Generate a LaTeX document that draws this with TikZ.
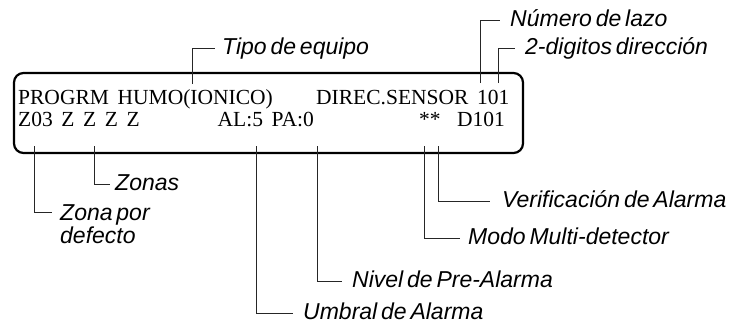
\documentclass[tikz,border=0pt]{standalone}
\usepackage{fontspec}
\setmainfont{Liberation Serif}
\newfontfamily\lcdfont[WordSpace=1.6]{Liberation Serif}
\newfontfamily\lblfont[WordSpace=0.6]{Liberation Sans}
\begin{document}
\begin{tikzpicture}[x=1pt,y=-1pt,
  lcd/.style={font=\lcdfont\fontsize{21.5}{24}\selectfont, anchor=base west, inner sep=0pt},
  lbl/.style={font=\lblfont\itshape\fontsize{23}{21.5}\selectfont, anchor=west, inner sep=0pt, text height=12pt, text depth=0pt},
  conn/.style={draw=black!85, line width=0.9pt},
  display/.style={draw=black, line width=2.2pt, rounded corners=9.5pt}]
\useasboundingbox (0,0) rectangle (734,324);
% display box
\draw[display] (14,73) rectangle (523,153);
% display text
\node[lcd] (t1) at (18,104) {PROGRM HUMO(IONICO)};
\node[lcd] (t2) at (316,104) {DIREC.SENSOR 101};
\node[lcd] (t3) at (18,126.5) {Z03 Z Z Z Z};
\node[lcd] (t4) at (217.5,126.5) {AL:5 PA:0};
\node[lcd] (t5) at (419,126.5) {**};
\node[lcd] (t6) at (457,126.5) {D101};
% connector start points
\coordinate (cTipo) at (192,84);
\coordinate (cNum) at (480,83);
\coordinate (cDig) at (498,83);
\coordinate (cZd) at (34,146);
\coordinate (cZn) at (94,146);
\coordinate (cAL) at (256,146);
\coordinate (cPA) at (317.5,146);
\coordinate (cMM) at (424.5,146);
\coordinate (cVA) at (438.5,146);
% labels
\node[lbl] (tipo) at (222,48) {Tipo de equipo};
\node[lbl] (num) at (510,20) {Número de lazo};
\node[lbl] (dig) at (525,48) {2-digitos dirección};
\node[lbl] (zonas) at (115,184) {Zonas};
\node[lbl, text height=17pt] (zdef) at (60,212) {\begin{tabular}[t]{@{}l@{}}Zona por\\defecto\end{tabular}};
\node[lbl] (umbral) at (303,313) {Umbral de Alarma};
\node[lbl] (nivel) at (352,281) {Nivel de Pre-Alarma};
\node[lbl] (modo) at (468,238) {Modo Multi-detector};
\node[lbl] (verif) at (502,201) {Verificación de Alarma};
% connectors
\draw[conn] (cTipo) |- ([xshift=-7pt]tipo.west);
\draw[conn] (cNum) |- ([xshift=-10pt]num.west);
\draw[conn] (cDig) |- ([xshift=-10pt]dig.west);
\draw[conn] (cZn) |- ([xshift=-5pt]zonas.west);
\draw[conn] (cZd) |- ([xshift=-8pt]zdef.west);
\draw[conn] (cAL) |- ([xshift=-10pt]umbral.west);
\draw[conn] (cPA) |- ([xshift=-10pt]nivel.west);
\draw[conn] (cMM) |- ([xshift=-8pt]modo.west);
\draw[conn] (cVA) |- ([xshift=-12pt]verif.west);
\end{tikzpicture}
\end{document}
